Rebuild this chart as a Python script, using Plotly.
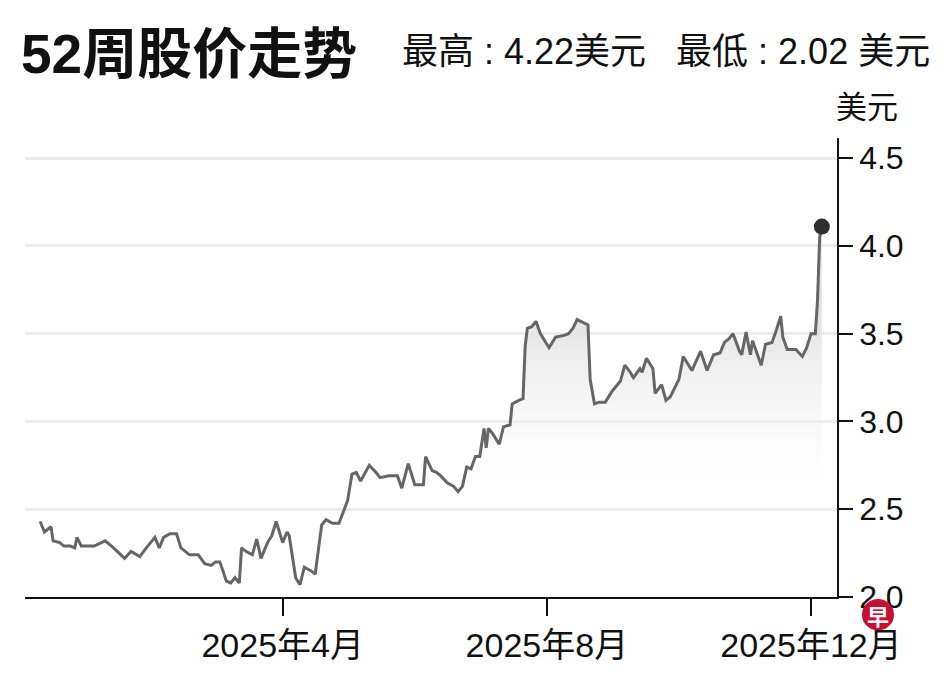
import plotly.graph_objects as go

# 52-week closing prices (USD)
dates = [
    "2024-12-10", "2024-12-12", "2024-12-15", "2024-12-16", "2024-12-19", "2024-12-21",
    "2024-12-24", "2024-12-26", "2024-12-27", "2024-12-29", "2025-01-04", "2025-01-09",
    "2025-01-12", "2025-01-18", "2025-01-21", "2025-01-25", "2025-01-28", "2025-02-01",
    "2025-02-03", "2025-02-05", "2025-02-08", "2025-02-11", "2025-02-13", "2025-02-17",
    "2025-02-21", "2025-02-24", "2025-02-27", "2025-03-01", "2025-03-03", "2025-03-04",
    "2025-03-06", "2025-03-08", "2025-03-10", "2025-03-12", "2025-03-13", "2025-03-15",
    "2025-03-18", "2025-03-20", "2025-03-22", "2025-03-25", "2025-03-27", "2025-03-29",
    "2025-04-01", "2025-04-03", "2025-04-04", "2025-04-07", "2025-04-09", "2025-04-11",
    "2025-04-14", "2025-04-16", "2025-04-19", "2025-04-21", "2025-04-24", "2025-04-27",
    "2025-04-29", "2025-05-01", "2025-05-03", "2025-05-05", "2025-05-07", "2025-05-11",
    "2025-05-14", "2025-05-16", "2025-05-20", "2025-05-24", "2025-05-26", "2025-05-29",
    "2025-06-01", "2025-06-05", "2025-06-06", "2025-06-09", "2025-06-11", "2025-06-13",
    "2025-06-16", "2025-06-19", "2025-06-21", "2025-06-23", "2025-06-25", "2025-06-27",
    "2025-06-29", "2025-07-01", "2025-07-03", "2025-07-04", "2025-07-05", "2025-07-07",
    "2025-07-10", "2025-07-12", "2025-07-15", "2025-07-16", "2025-07-19", "2025-07-21",
    "2025-07-22", "2025-07-23", "2025-07-25", "2025-07-27", "2025-07-29", "2025-08-02",
    "2025-08-05", "2025-08-09", "2025-08-11", "2025-08-13", "2025-08-15", "2025-08-18",
    "2025-08-20", "2025-08-21", "2025-08-23", "2025-08-25", "2025-08-28", "2025-08-31",
    "2025-09-02", "2025-09-04", "2025-09-06", "2025-09-08", "2025-09-10", "2025-09-13",
    "2025-09-14", "2025-09-16", "2025-09-19", "2025-09-20", "2025-09-23", "2025-09-25",
    "2025-09-27", "2025-10-01", "2025-10-03", "2025-10-07", "2025-10-11", "2025-10-14",
    "2025-10-17", "2025-10-20", "2025-10-22", "2025-10-24", "2025-10-26", "2025-10-29",
    "2025-10-30", "2025-11-01", "2025-11-03", "2025-11-04", "2025-11-06", "2025-11-08",
    "2025-11-10", "2025-11-13", "2025-11-15", "2025-11-17", "2025-11-18", "2025-11-20",
    "2025-11-24", "2025-11-27", "2025-11-29", "2025-12-01", "2025-12-03", "2025-12-04",
    "2025-12-05", "2025-12-06",
]
prices = [
    2.43, 2.37, 2.40, 2.32, 2.31, 2.29,
    2.29, 2.28, 2.34, 2.29, 2.29, 2.32,
    2.29, 2.22, 2.26, 2.23, 2.28, 2.34,
    2.28, 2.34, 2.36, 2.36, 2.28, 2.24,
    2.24, 2.19, 2.18, 2.20, 2.20, 2.16,
    2.09, 2.08, 2.11, 2.08, 2.28, 2.26,
    2.24, 2.33, 2.22, 2.31, 2.35, 2.43,
    2.31, 2.37, 2.35, 2.11, 2.07, 2.17,
    2.15, 2.13, 2.41, 2.44, 2.42, 2.42,
    2.48, 2.55, 2.70, 2.71, 2.66, 2.75,
    2.71, 2.68, 2.69, 2.69, 2.62, 2.76,
    2.64, 2.64, 2.80, 2.72, 2.71, 2.69,
    2.65, 2.63, 2.60, 2.63, 2.74, 2.73,
    2.80, 2.80, 2.96, 2.85, 2.96, 2.93,
    2.87, 2.97, 2.98, 3.10, 3.12, 3.13,
    3.43, 3.53, 3.54, 3.57, 3.50, 3.42,
    3.48, 3.49, 3.50, 3.53, 3.58, 3.56,
    3.55, 3.24, 3.10, 3.11, 3.11, 3.17,
    3.20, 3.23, 3.32, 3.29, 3.25, 3.30,
    3.28, 3.36, 3.30, 3.16, 3.21, 3.12,
    3.14, 3.24, 3.37, 3.29, 3.40, 3.29,
    3.38, 3.39, 3.45, 3.47, 3.50, 3.40,
    3.38, 3.51, 3.38, 3.46, 3.39, 3.32,
    3.44, 3.45, 3.52, 3.60, 3.48, 3.41,
    3.41, 3.37, 3.42, 3.50, 3.50, 3.69,
    4.05, 4.11,
]

title_text = "52周股价走势"
subtitle_text = "最高 : 4.22美元   最低 : 2.02 美元"
unit_text = "美元"
y_ticks = [2.0, 2.5, 3.0, 3.5, 4.0, 4.5]
x_tick_dates = ["2025-04-01", "2025-08-01", "2025-12-01"]
x_tick_labels = ["2025年4月", "2025年8月", "2025年12月"]

FONT = "Liberation Sans, Arial, Noto Sans CJK SC, sans-serif"
CJK = "Noto Sans CJK SC, sans-serif"

W, H = 948, 676
# plot area in pixels
L, R, T, B = 25, 837, 138, 606


def px(x):
    return (x - L) / (R - L)


def py(y):
    return (B - y) / (B - T)


fig = go.Figure()

fig.add_trace(go.Scatter(
    x=dates, y=prices, mode="lines",
    line=dict(color="#666666", width=3),
    fill="tozeroy",
    fillgradient=dict(type="vertical", start=2.55, stop=3.6,
                      colorscale=[[0, "rgba(255,255,255,0)"], [1, "#e3e3e3"]]),
    hoverinfo="skip",
))

# last price marker
fig.add_trace(go.Scatter(
    x=[dates[-1]], y=[prices[-1]], mode="markers",
    marker=dict(color="#2e2e2e", size=16),
    hoverinfo="skip",
))

fig.update_layout(
    width=W, height=H,
    margin=dict(l=L, r=W - R, t=T, b=H - B),
    paper_bgcolor="white", plot_bgcolor="white",
    showlegend=False,
    font=dict(family=FONT, color="#111111"),
)

fig.update_xaxes(
    range=["2024-12-03", "2025-12-13"],
    showgrid=False, zeroline=False,
    showline=True, linecolor="#111111", linewidth=1.5,
    ticks="outside", ticklen=17, tickwidth=1.5, tickcolor="#111111",
    tickvals=x_tick_dates, ticktext=x_tick_labels,
    tickfont=dict(size=34, family=FONT, color="#111111"),
)

fig.update_yaxes(
    range=[2.0, 2.0 + (B - T) / 179],
    side="right",
    showgrid=True, gridcolor="#ececec", gridwidth=2.5,
    zeroline=False,
    showline=True, linecolor="#111111", linewidth=1.5,
    ticks="outside", ticklen=14, tickwidth=1.5, tickcolor="#111111",
    tickvals=y_ticks, ticktext=[f"{v:.1f}" for v in y_ticks],
    tickfont=dict(size=32, family=FONT, color="#111111"),
)

fig.add_annotation(
    text="<b>" + title_text + "</b>", xref="paper", yref="paper",
    x=px(19), y=py(52), xanchor="left", yanchor="middle", showarrow=False,
    font=dict(size=55, family="Liberation Sans, Noto Sans CJK SC, sans-serif", color="#111111"),
)
fig.add_annotation(
    text=subtitle_text, xref="paper", yref="paper",
    x=px(400), y=py(50), xanchor="left", yanchor="middle", showarrow=False,
    font=dict(size=36, family=FONT, color="#111111"),
)
fig.add_annotation(
    text=unit_text, xref="paper", yref="paper",
    x=px(834), y=py(104), xanchor="left", yanchor="middle", showarrow=False,
    font=dict(size=31, family=CJK, color="#111111"),
)

# small red 早 logo in the corner
fig.add_shape(
    type="circle", xref="paper", yref="paper",
    x0=px(862), x1=px(894), y0=py(640), y1=py(608),
    fillcolor="#c8102e", line=dict(width=0), layer="above",
)
fig.add_annotation(
    text="<b>早</b>", xref="paper", yref="paper",
    x=px(878), y=py(624), xanchor="center", yanchor="middle", showarrow=False,
    font=dict(size=22, family=CJK, color="white"),
)

# drop the default 8px page margin so the figure sits at the window's corner
fig.write_html("out.html", config={"displayModeBar": False},
               post_script="document.body.style.margin='0';")
